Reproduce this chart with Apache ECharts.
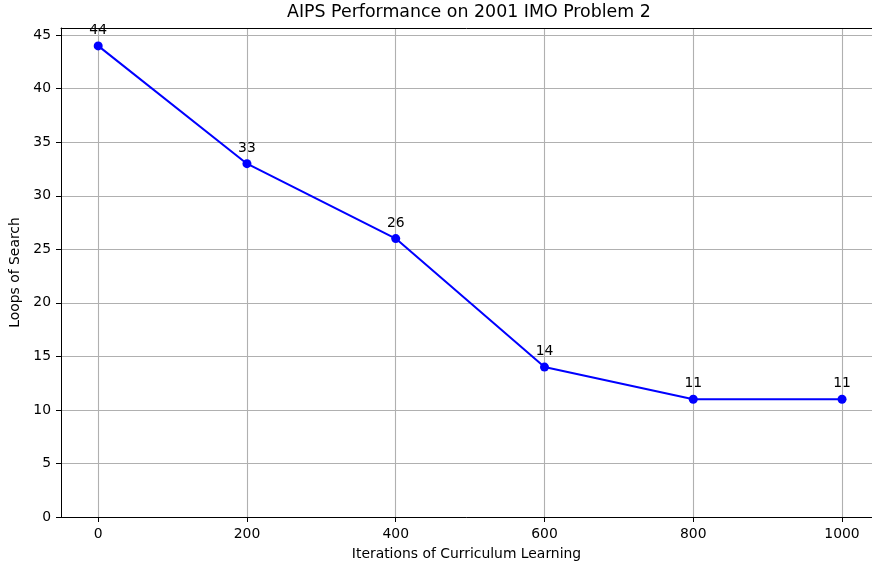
<!DOCTYPE html>
<html>
<head>
<meta charset="utf-8">
<script src="https://cdn.jsdelivr.net/npm/echarts@6/dist/echarts.min.js"></script>
<style>
html,body{margin:0;padding:0;background:#fff;}
#chart{width:872px;height:567px;}
</style>
</head>
<body>
<div id="chart"></div>
<script>
var iterations = [0, 200, 400, 600, 800, 1000];
var loops = [44, 33, 26, 14, 11, 11];
var xTicks = [0, 200, 400, 600, 800, 1000];
var yTicks = [0, 5, 10, 15, 20, 25, 30, 35, 40, 45];

var FONT = 'DejaVu Sans';
var chart = echarts.init(document.getElementById('chart'), null, {renderer: 'canvas'});
var seriesData = iterations.map(function (x, i) { return [x, loops[i]]; });

chart.setOption({
  animation: false,
  backgroundColor: '#ffffff',
  title: {
    text: 'AIPS Performance on 2001 IMO Problem 2',
    left: 287,
    top: 4,
    padding: 0,
    textStyle: {fontFamily: FONT, fontSize: 17.4, fontWeight: 'normal', color: '#000'}
  },
  grid: {
    left: 61, top: 28, width: 811, height: 489,
    show: false,
    containLabel: false
  },
  xAxis: [{
    type: 'value',
    min: -50, max: 1040.3,
    name: 'Iterations of Curriculum Learning',
    nameLocation: 'middle',
    nameGap: 30,
    nameTextStyle: {fontFamily: FONT, fontSize: 13.9, color: '#000'},
    axisLine: {show: true, onZero: false, lineStyle: {color: '#000', width: 1}},
    axisTick: {show: true, length: 5, inside: false, customValues: xTicks, lineStyle: {color: '#000', width: 1}},
    axisLabel: {customValues: xTicks, margin: 10, fontFamily: FONT, fontSize: 13.9, color: '#000',
      formatter: function (v) { return String(v); }},
    splitLine: {show: true, lineStyle: {color: '#b0b0b0', width: 1.1}}
  }, {
    type: 'value',
    position: 'top',
    min: -50, max: 1040.3,
    axisLine: {show: true, onZero: false, lineStyle: {color: '#000', width: 1}},
    axisTick: {show: false},
    axisLabel: {show: false},
    splitLine: {show: false}
  }],
  yAxis: {
    type: 'value',
    min: 0, max: 45.67,
    name: 'Loops of Search',
    nameLocation: 'middle',
    nameGap: 36,
    nameTextStyle: {fontFamily: FONT, fontSize: 13.9, color: '#000'},
    axisLine: {show: true, onZero: false, lineStyle: {color: '#000', width: 1}},
    axisTick: {show: true, length: 5, inside: false, customValues: yTicks, lineStyle: {color: '#000', width: 1}},
    axisLabel: {customValues: yTicks, margin: 10, fontFamily: FONT, fontSize: 13.9, color: '#000'},
    splitLine: {show: true, lineStyle: {color: '#b0b0b0', width: 1.1}}
  },
  series: [{
    type: 'line',
    xAxisIndex: 0,
    data: seriesData,
    symbol: 'circle',
    symbolSize: 9,
    showAllSymbol: true,
    lineStyle: {color: '#0000ff', width: 2},
    itemStyle: {color: '#0000ff'},
    label: {show: true, position: 'top', distance: 4, fontFamily: FONT, fontSize: 13.9, color: '#000',
      formatter: function (p) { return p.value[1]; }},
    z: 5
  }]
});
</script>
</body>
</html>
